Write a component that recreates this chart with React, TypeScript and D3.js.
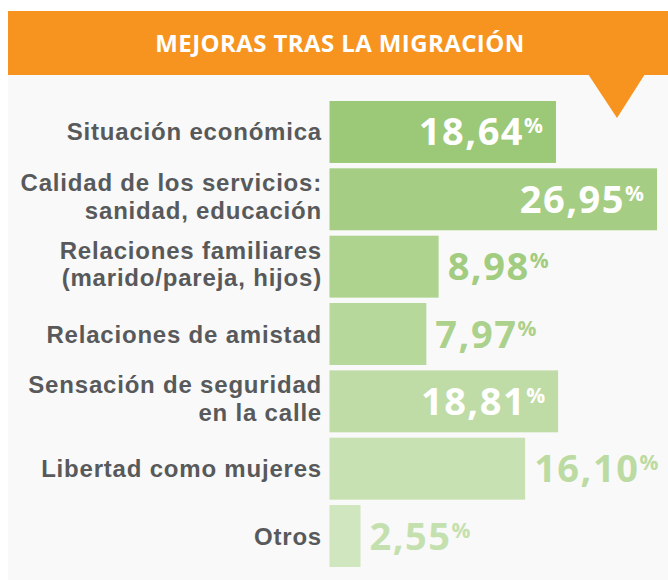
import React from "react";
import * as d3 from "d3";

const categories: string[][] = [
  ["Situación económica"],
  ["Calidad de los servicios:", "sanidad, educación"],
  ["Relaciones familiares", "(marido/pareja, hijos)"],
  ["Relaciones de amistad"],
  ["Sensación de seguridad", "en la calle"],
  ["Libertad como mujeres"],
  ["Otros"],
];
const values: number[] = [18.64, 26.95, 8.98, 7.97, 18.81, 16.1, 2.55];
const labelInside: boolean[] = [true, true, false, false, true, false, false];
const title = "MEJORAS TRAS LA MIGRACIÓN";

const W = 668;
const H = 580;
const FONT = "'Open Sans', Lato, sans-serif";
const LABEL_FONT = "'Liberation Sans', Arial, sans-serif";

export default function App() {
  const x = d3.scaleLinear().domain([0, 26.95]).range([329.5, 657]);
  const y = d3
    .scaleBand<number>()
    .domain(d3.range(values.length))
    .range([101, 567])
    .paddingInner(0.08)
    .paddingOuter(0);
  const color = d3
    .scaleLinear<string>()
    .domain([0, values.length - 1])
    .range(["#9cc978", "#d0e6be"])
    .interpolate(d3.interpolateRgb);
  const fmt = (v: number) => v.toFixed(2).replace(".", ",");

  return (
    <svg
      width={W}
      height={H}
      style={{ position: "absolute", left: 0, top: 0, background: "#ffffff" }}
      fontFamily={FONT}
    >
      <rect x={8} y={75} width={W - 8} height={H - 75} fill="#f9f9f9" />
      <rect x={8} y={11} width={W - 8} height={64} fill="#f7941f" />
      <path d="M588,74 L645,74 L617,118 Z" fill="#f7941f" />
      <text
        x={340}
        y={52}
        textAnchor="middle"
        fill="#ffffff"
        fontWeight={700}
        fontSize={24}
        letterSpacing={0.4}
      >
        {title}
      </text>
      {values.map((v, i) => {
        const y0 = y(i) as number;
        const bw = y.bandwidth();
        const cy = y0 + bw / 2;
        const lines = categories[i];
        const inside = labelInside[i];
        const xe = x(v);
        return (
          <g key={i}>
            <rect x={x(0)} y={y0} width={xe - x(0)} height={bw} fill={color(i)} />
            <text
              x={322}
              y={lines.length === 1 ? cy + 8.5 : cy - 8}
              textAnchor="end"
              fill="#58595b"
              fontWeight={700}
              fontSize={24}
              letterSpacing={0.8}
              fontFamily={LABEL_FONT}
            >
              {lines.map((ln, j) => (
                <tspan key={j} x={322} dy={j === 0 ? 0 : 27.3}>
                  {ln}
                </tspan>
              ))}
            </text>
            <text
              x={inside ? xe - 13 : xe + 9}
              y={cy + 13.5}
              textAnchor={inside ? "end" : "start"}
              fill={inside ? "#ffffff" : color(Math.max(0, i - 1.3))}
              fontWeight={700}
              fontSize={38}
              letterSpacing={1.5}
            >
              {fmt(v)}
              <tspan fontSize={21} dy={-12} letterSpacing={0}>
                %
              </tspan>
            </text>
          </g>
        );
      })}
    </svg>
  );
}
